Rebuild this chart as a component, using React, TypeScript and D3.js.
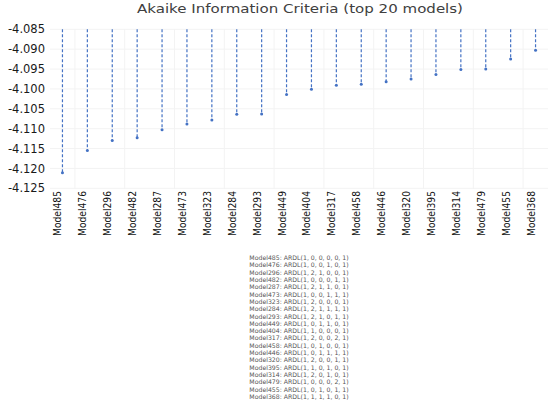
import React from "react";
import * as d3 from "d3";

const models = ["Model485","Model476","Model296","Model482","Model287","Model473","Model323","Model284","Model293","Model449","Model404","Model317","Model458","Model446","Model320","Model395","Model314","Model479","Model455","Model368"];
const aicValues = [-4.1211,-4.1155,-4.1130,-4.1123,-4.1103,-4.1088,-4.1078,-4.1064,-4.1063,-4.1014,-4.1001,-4.0991,-4.0988,-4.0982,-4.0975,-4.0964,-4.0951,-4.0950,-4.0925,-4.0903];
const specs = ["ARDL(1, 0, 0, 0, 0, 1)","ARDL(1, 0, 0, 1, 0, 1)","ARDL(1, 2, 1, 0, 0, 1)","ARDL(1, 0, 0, 0, 1, 1)","ARDL(1, 2, 1, 1, 0, 1)","ARDL(1, 0, 0, 1, 1, 1)","ARDL(1, 2, 0, 0, 0, 1)","ARDL(1, 2, 1, 1, 1, 1)","ARDL(1, 2, 1, 0, 1, 1)","ARDL(1, 0, 1, 1, 0, 1)","ARDL(1, 1, 0, 0, 0, 1)","ARDL(1, 2, 0, 0, 2, 1)","ARDL(1, 0, 1, 0, 0, 1)","ARDL(1, 0, 1, 1, 1, 1)","ARDL(1, 2, 0, 0, 1, 1)","ARDL(1, 1, 0, 1, 0, 1)","ARDL(1, 2, 0, 1, 0, 1)","ARDL(1, 0, 0, 0, 2, 1)","ARDL(1, 0, 1, 0, 1, 1)","ARDL(1, 1, 1, 1, 0, 1)"];
const yTicks = [-4.085,-4.09,-4.095,-4.1,-4.105,-4.11,-4.115,-4.12,-4.125];
const title = "Akaike Information Criteria (top 20 models)";

export default function App() {
  const W = 550, H = 404;
  const x = d3.scaleBand<string>().domain(models).range([50, 548]).padding(0);
  const y = d3.scaleLinear().domain([-4.125, -4.085]).range([188.3, 29.3]);
  const bw = x.bandwidth();
  const font = "'DejaVu Sans', Verdana, sans-serif";
  const blue = "#4472C4";
  return (
    <svg width={W} height={H} style={{ position: "absolute", left: 0, top: 0, background: "#fff" }} fontFamily={font}>
      <rect x={0} y={0} width={W} height={H} fill="#fff" />
      {yTicks.map((t) => (
        <line key={"h" + t} x1={50} x2={548} y1={y(t)} y2={y(t)} stroke="#f3f3f3" strokeWidth={1} />
      ))}
      {models.map((m, i) =>
        i % 2 === 1 ? (
          <line key={"v" + m} x1={x(m)!} x2={x(m)!} y1={29} y2={189} stroke="#f3f3f3" strokeWidth={1} />
        ) : null
      )}
      <text x={300} y={13} textAnchor="middle" fontSize={12.5} fill="#404040" textLength={326} lengthAdjust="spacingAndGlyphs">{title}</text>
      {yTicks.map((t) => (
        <text key={"yl" + t} x={45} y={y(t)} dy="0.36em" textAnchor="end" fontSize={11.5} fill="#1a1a1a">{d3.format(".3f")(t).replace("−", "-")}</text>
      ))}
      {models.map((m, i) => {
        const cx = x(m)! + bw / 2;
        return (
          <g key={"s" + m}>
            <line x1={cx} x2={cx} y1={y(-4.085)} y2={y(aicValues[i])} stroke={blue} strokeWidth={1.2} strokeDasharray="3,2" />
            <circle cx={cx} cy={y(aicValues[i])} r={1.5} fill={blue} />
          </g>
        );
      })}
      {models.map((m) => {
        const cx = x(m)! + bw / 2 - 4.5;
        return (
          <text key={"xl" + m} transform={`translate(${cx},191) rotate(-90)`} textAnchor="end" dy="0.35em" fontSize={10} fill="#111" textLength={45} lengthAdjust="spacingAndGlyphs">{m}</text>
        );
      })}
      {models.map((m, i) => (
        <text key={"ml" + m} x={299} y={258 + i * 7.3} dy="0.35em" textAnchor="middle" fontSize={6.2} fill="#555">{m + ": " + specs[i]}</text>
      ))}
    </svg>
  );
}
